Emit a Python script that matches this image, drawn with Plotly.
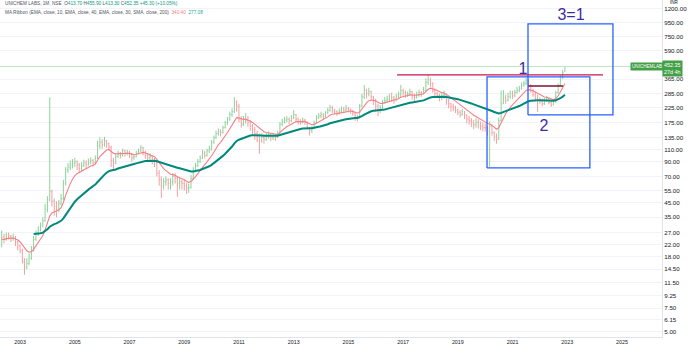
import math
import pandas as pd
import plotly.graph_objects as go

# ---------------------------------------------------------------------------
# UNICHEM LABS (NSE) monthly bars, May 2002 - Dec 2022
# ---------------------------------------------------------------------------
first_month = "2002-05-01"

open_ = [
    24.5, 25, 24, 26, 25.5, 24.5, 25, 23,                          # 2002
    21.5, 20, 16.5, 15, 16, 17.5, 20, 24, 26.5, 28, 30.5, 33,      # 2003
    40, 47, 54, 46, 42, 40, 44, 48, 62, 78, 82, 86,                # 2004
    88, 90, 85, 80, 84, 88, 85, 90, 92, 88, 95, 118,               # 2005
    125, 120, 128, 122, 115, 92, 88, 98, 104, 100, 108, 104,       # 2006
    106, 102, 96, 98, 104, 108, 114, 106, 100, 96, 98, 92,         # 2007
    88, 74, 66, 60, 64, 66, 62, 64, 70, 68, 62, 64,                # 2008
    62, 60, 57, 58, 68, 78, 84, 90, 96, 104, 100, 108,             # 2009
    112, 125, 135, 145, 150, 148, 160, 175, 185, 200, 210, 245,    # 2010
    230, 185, 170, 178, 185, 175, 165, 155, 145, 140, 128, 135,    # 2011
    132, 138, 142, 135, 140, 136, 145, 170, 178, 182, 185, 180,    # 2012
    188, 200, 185, 178, 175, 182, 176, 160, 152, 158, 175, 190,    # 2013
    195, 200, 192, 205, 215, 225, 215, 210, 205, 212, 220, 215,    # 2014
    222, 218, 212, 205, 195, 188, 230, 270, 300, 285, 295, 270,    # 2015
    255, 230, 215, 225, 245, 255, 260, 270, 265, 258, 270, 280,    # 2016
    300, 290, 280, 285, 295, 275, 268, 280, 290, 285, 300, 345,    # 2017
    360, 340, 300, 285, 278, 265, 270, 280, 255, 240, 230, 225,    # 2018
    215, 208, 200, 210, 198, 185, 180, 175, 168, 175, 170, 165,    # 2019
    160, 160, 150, 165, 148, 138, 132, 180, 240, 265, 255, 270,    # 2020
    285, 275, 290, 300, 310, 330, 340, 355, 325, 300, 280, 265,    # 2021
    255, 250, 240, 255, 262, 245, 235, 248, 290, 330, 375, 413.70, # 2022
]

high = [
    28, 26.5, 27, 27, 26, 26.5, 25.5, 23.5,
    22, 20.5, 17.5, 17.5, 19, 21.5, 25.5, 28, 30, 32, 35, 44,
    50, 268, 56, 48, 46, 47, 52, 66, 82, 88, 92, 94,
    96, 92, 88, 89, 93, 92, 95, 97, 94, 100, 128, 136,
    132, 137, 130, 124, 118, 96, 102, 108, 106, 112, 110, 110,
    108, 104, 102, 108, 112, 119, 116, 108, 104, 104, 100, 96,
    90, 78, 70, 68, 70, 68, 68, 74, 74, 70, 68, 66,
    66, 63, 62, 72, 82, 88, 94, 100, 110, 108, 112, 118,
    130, 140, 152, 158, 156, 165, 180, 192, 210, 222, 268, 255,
    240, 195, 195, 205, 195, 182, 170, 162, 152, 145, 145, 142,
    146, 150, 145, 146, 144, 152, 176, 186, 192, 195, 190, 198,
    216, 202, 190, 185, 190, 186, 178, 162, 165, 180, 198, 205,
    210, 205, 212, 225, 236, 232, 220, 215, 222, 230, 228, 235,
    228, 222, 215, 205, 200, 240, 285, 330, 310, 315, 300, 275,
    262, 240, 235, 255, 270, 275, 285, 290, 275, 285, 295, 330,
    310, 300, 295, 310, 300, 285, 295, 305, 298, 320, 370, 392,
    375, 345, 310, 295, 285, 290, 300, 285, 260, 245, 240, 232,
    222, 215, 220, 212, 200, 195, 188, 182, 188, 185, 178, 175,
    172, 165, 178, 170, 150, 145, 190, 300, 303, 280, 290, 300,
    300, 305, 320, 325, 345, 355, 372, 365, 335, 310, 295, 280,
    268, 262, 265, 275, 268, 250, 258, 298, 340, 390, 426, 455.90,
]

low = [
    21, 22.5, 23.5, 24, 23, 23.5, 21.5, 20,
    19, 16, 13.2, 14.5, 15.5, 17, 19.5, 23.5, 25.5, 27.5, 29.5, 32.5,
    38, 46, 42, 36, 35, 38, 43, 47, 60, 74, 78, 80,
    82, 78, 74, 76, 82, 80, 84, 86, 83, 86, 94, 112,
    112, 116, 114, 108, 82, 78, 86, 96, 95, 98, 98, 100,
    96, 90, 92, 97, 102, 106, 100, 94, 90, 92, 86, 82,
    70, 60, 48.5, 56, 60, 56, 56, 60, 62, 49.5, 56, 56,
    55, 52, 53, 57, 66, 76, 82, 88, 94, 95, 98, 104,
    108, 122, 132, 140, 138, 145, 158, 168, 180, 192, 205, 210,
    175, 160, 165, 172, 162, 152, 140, 130, 125, 103, 124, 122,
    128, 132, 128, 130, 128, 134, 144, 164, 172, 175, 170, 176,
    185, 176, 168, 168, 172, 168, 155, 140, 146, 156, 172, 185,
    188, 182, 190, 202, 210, 205, 200, 195, 200, 208, 205, 210,
    208, 202, 196, 180, 178, 188, 228, 260, 262, 272, 255, 235,
    210, 195, 205, 220, 240, 245, 250, 248, 240, 250, 262, 270,
    275, 265, 270, 275, 258, 250, 262, 270, 270, 282, 295, 330,
    320, 290, 270, 265, 250, 255, 262, 236, 222, 210, 212, 205,
    198, 190, 196, 185, 172, 168, 162, 156, 160, 158, 154, 150,
    150, 140, 82, 140, 128, 122, 130, 178, 240, 240, 250, 262,
    260, 268, 285, 292, 305, 320, 330, 315, 290, 270, 250, 209,
    240, 230, 235, 250, 238, 228, 235, 245, 285, 325, 365, 413.30,
]

close = [
    25, 24, 26, 25.5, 24.5, 25, 23, 21.5,
    20, 16.5, 15, 16, 17.5, 20, 24, 26.5, 28, 30.5, 33, 40,
    47, 54, 46, 42, 40, 44, 48, 62, 78, 82, 86, 88,
    90, 85, 80, 84, 88, 85, 90, 92, 88, 95, 118, 125,
    120, 128, 122, 115, 92, 88, 98, 104, 100, 108, 104, 106,
    102, 96, 98, 104, 108, 114, 106, 100, 96, 98, 92, 88,
    74, 66, 60, 64, 66, 62, 64, 70, 68, 62, 64, 62,
    60, 57, 58, 68, 78, 84, 90, 96, 104, 100, 108, 112,
    125, 135, 145, 150, 148, 160, 175, 185, 200, 210, 245, 230,
    185, 170, 178, 185, 175, 165, 155, 145, 140, 128, 135, 132,
    138, 142, 135, 140, 136, 145, 170, 178, 182, 185, 180, 188,
    200, 185, 178, 175, 182, 176, 160, 152, 158, 175, 190, 195,
    200, 192, 205, 215, 225, 215, 210, 205, 212, 220, 215, 222,
    218, 212, 205, 195, 188, 230, 270, 300, 285, 295, 270, 255,
    230, 215, 225, 245, 255, 260, 270, 265, 258, 270, 280, 300,
    290, 280, 285, 295, 275, 268, 280, 290, 285, 300, 345, 360,
    340, 300, 285, 278, 265, 270, 280, 255, 240, 230, 225, 215,
    208, 200, 210, 198, 185, 180, 175, 168, 175, 170, 165, 160,
    160, 150, 165, 148, 138, 132, 180, 240, 265, 255, 270, 285,
    275, 290, 300, 310, 330, 340, 355, 325, 300, 280, 265, 255,
    250, 240, 255, 262, 245, 235, 248, 290, 330, 375, 407.05, 452.35,
]

# Ribbon settings: fast EMA(10) and slow EMA(40); values where each line
# first appears on screen
fast_len, fast_start, fast_seed = 10, 0, 24.0
slow_len, slow_start, slow_seed = 40, 14, 26.4

y_tick_vals = [5, 6.15, 7.5, 9.25, 11.5, 14.5, 18, 22, 27, 35, 45, 55, 70, 90,
               110, 135, 175, 225, 285, 365, 590, 750, 950, 1200]
year_ticks = list(range(2003, 2026, 2))

last_price = 452.35

# ---------------------------------------------------------------------------
dates = pd.date_range(first_month, periods=len(close), freq="MS")


def ema(values, length, start, seed):
    k = 2.0 / (length + 1)
    out = [None] * len(values)
    cur = seed
    out[start] = cur
    for i in range(start + 1, len(values)):
        cur = values[i] * k + cur * (1 - k)
        out[i] = cur
    return out


fast = ema(close, fast_len, fast_start, fast_seed)
slow = ema(close, slow_len, slow_start, slow_seed)

UP = "#8fd19a"
DOWN = "#f4a0a0"
FAST_COL = "#f47f86"
SLOW_COL = "#00897b"
BOX_COL = "#2962ff"
MARK_COL = "#3f2ba0"
TEXT = "#131722"
GRID = "#f0f3fa"
AXIS = "#e0e3eb"

fig = go.Figure()

# current-price line
fig.add_trace(go.Scatter(
    x=["2002-03-01", "2025-05-01"], y=[last_price, last_price], mode="lines",
    line=dict(color="#bfe5c2", width=1), hoverinfo="skip", showlegend=False))

fig.add_trace(go.Ohlc(
    x=dates, open=open_, high=high, low=low, close=close,
    increasing=dict(line=dict(color=UP, width=1)),
    decreasing=dict(line=dict(color=DOWN, width=1)),
    tickwidth=0.35, hoverinfo="skip", showlegend=False))

fig.add_trace(go.Scatter(x=dates, y=fast, mode="lines",
                         line=dict(color=FAST_COL, width=1.1),
                         hoverinfo="skip", showlegend=False))
fig.add_trace(go.Scatter(x=dates, y=slow, mode="lines",
                         line=dict(color=SLOW_COL, width=2),
                         hoverinfo="skip", showlegend=False))

# hand-drawn analysis marks
resistance = dict(x=["2016-10-12", "2024-04-22"], y=[392, 392])
base_top = dict(x=["2021-07-26", "2022-11-06"], y=[325, 325])
box_one = dict(x0="2020-01-26", x1="2023-10-30", y0=80.8, y1=378.5)
box_two = dict(x0="2021-07-26", x1="2024-09-02", y0=198.6, y1=930)

fig.add_trace(go.Scatter(x=resistance["x"], y=resistance["y"], mode="lines",
                         line=dict(color="#cc1450", width=1.4),
                         hoverinfo="skip", showlegend=False))
fig.add_trace(go.Scatter(x=base_top["x"], y=base_top["y"], mode="lines",
                         line=dict(color="#7b1236", width=1.6),
                         hoverinfo="skip", showlegend=False))
for b in (box_one, box_two):
    fig.add_trace(go.Scatter(
        x=[b["x0"], b["x1"], b["x1"], b["x0"], b["x0"]],
        y=[b["y0"], b["y0"], b["y1"], b["y1"], b["y0"]],
        mode="lines", line=dict(color=BOX_COL, width=1.3),
        hoverinfo="skip", showlegend=False))

fig.add_trace(go.Scatter(
    x=["2021-05-20", "2022-02-25", "2023-02-20"], y=[426, 162, 1065],
    mode="text", text=["1", "2", "3=1"],
    textfont=dict(family="Liberation Sans", size=16, color=MARK_COL),
    hoverinfo="skip", showlegend=False))

PLOT_H = 337.0


def py(px):
    return 1 - px / PLOT_H


head_font = dict(family="Liberation Sans", size=4.7, color="#50535e")
up_c = "#089981"
header1 = ("UNICHEM LABS, 1M, NSE&nbsp;&nbsp;O<span style='color:%s'>413.70</span>"
           " H<span style='color:%s'>455.90</span> L<span style='color:%s'>413.30</span>"
           " C<span style='color:%s'>452.35</span> <span style='color:%s'>+45.30 (+10.05%%)</span>"
           % (up_c, up_c, up_c, up_c, up_c))
header2 = ("MA Ribbon (EMA, close, 10, EMA, close, 40, EMA, close, 30, SMA, close, 200)"
           "&nbsp;&nbsp;<span style='color:%s'>340.40</span>&nbsp;&nbsp;"
           "<span style='color:#26a69a'>277.08</span>" % FAST_COL)

annotations = [
    dict(text=header1, x=0.004, y=py(4), xanchor="left", yanchor="middle",
         font=head_font),
    dict(text=header2, x=0.004, y=py(12), xanchor="left", yanchor="middle",
         font=head_font),
    dict(text="INR", x=1.01, y=1.0, xanchor="left", yanchor="top",
         borderpad=0, yshift=1,
         font=dict(family="Liberation Sans", size=4.6, color=TEXT)),
    dict(text="UNICHEMLAB", x=630 / 662.0, y=math.log10(last_price), yref="y",
         xanchor="left", yanchor="middle", bgcolor="#43a047", borderpad=1,
         font=dict(family="Liberation Sans", size=4.6, color="white")),
    dict(text="452.35<br>27d 4h", x=1.0, y=math.log10(last_price) - 0.018,
         yref="y", xanchor="left", yanchor="middle", bgcolor="#43a047",
         borderpad=1, align="left",
         font=dict(family="Liberation Sans", size=5.4, color="white")),
]
for a in annotations:
    a.setdefault("xref", "paper")
    a.setdefault("yref", "paper")
    a["showarrow"] = False

fig.update_layout(
    width=690, height=350,
    margin=dict(l=0, r=28, t=0, b=13),
    paper_bgcolor="white", plot_bgcolor="white",
    annotations=annotations,
    hovermode=False,
    xaxis=dict(
        type="date", range=["2002-04-08", "2026-06-19"],
        rangeslider=dict(visible=False),
        tickvals=["%d-01-01" % y for y in year_ticks],
        ticktext=[str(y) for y in year_ticks],
        tickfont=dict(family="Liberation Sans", size=5.3, color=TEXT),
        showgrid=False, zeroline=False, showline=True, linecolor=AXIS,
        linewidth=1, ticks="", automargin=False),
    yaxis=dict(
        type="log", side="right",
        range=[0.662, 3.145],
        tickvals=y_tick_vals,
        ticktext=["%.2f" % v for v in y_tick_vals],
        tickfont=dict(family="Liberation Sans", size=6.2, color=TEXT),
        showgrid=True, gridcolor=GRID, gridwidth=1,
        zeroline=False, showline=True, linecolor=AXIS, linewidth=1,
        ticks="", automargin=False),
)

fig.write_html("out.html")
